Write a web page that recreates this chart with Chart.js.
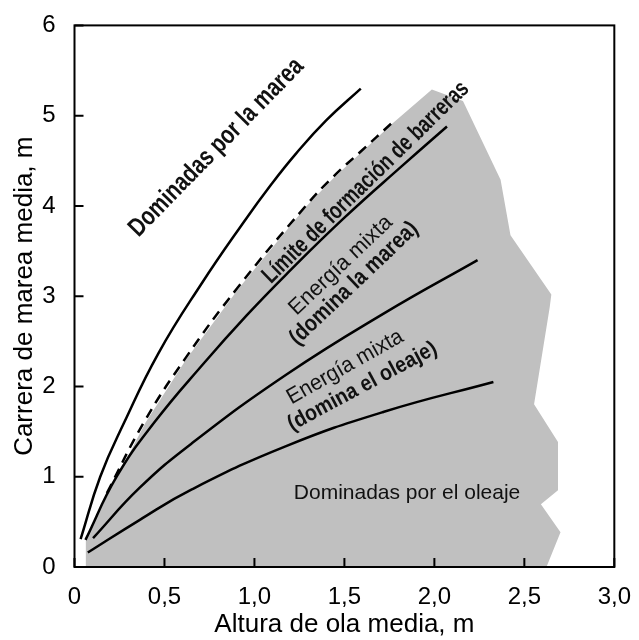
<!DOCTYPE html>
<html>
<head>
<meta charset="utf-8">
<script src="https://cdn.jsdelivr.net/npm/chart.js@4/dist/chart.umd.min.js"></script>
<style>
  html, body { margin: 0; padding: 0; background: #fff; }
</style>
</head>
<body>
<canvas id="chart" width="639" height="640"></canvas>
<script>
// axis ticks
const xTicks = [0, 0.5, 1.0, 1.5, 2.0, 2.5, 3.0];
const yTicks = [0, 1, 2, 3, 4, 5, 6];

// upper solid curve (dominadas por la marea)
const tideX = [0.034, 0.143, 0.276, 0.467, 0.703, 0.94, 1.094, 1.231, 1.40, 1.591];
const tideY = [0.31, 1.0, 1.60, 2.37, 3.13, 3.82, 4.24, 4.58, 4.95, 5.30];

// dashed curve
const dashX = [0.18, 0.385, 0.612, 0.905, 1.285, 1.431, 1.60, 1.759];
const dashY = [0.82, 1.60, 2.30, 3.09, 4.0, 4.31, 4.62, 4.91];

// solid curve under the "Límite" label
const limitX = [0.061, 0.234, 0.443, 0.72, 0.958, 1.176, 1.5, 1.83, 2.07];
const limitY = [0.30, 1.0, 1.60, 2.26, 2.79, 3.24, 3.87, 4.46, 4.88];

// mixed energy, tide dominated / wave dominated
const mixTideX = [0.103, 0.361, 0.652, 1.176, 1.72, 2.24];
const mixTideY = [0.32, 0.876, 1.37, 2.13, 2.81, 3.40];
const mixWaveX = [0.074, 0.361, 0.652, 1.176, 1.72, 2.328];
const mixWaveY = [0.16, 0.52, 0.86, 1.34, 1.72, 2.05];

// grey area outline
const shadeX = [0.06, 0.063, 0.19, 0.395, 0.62, 0.91, 1.29, 1.44, 1.77, 1.986, 2.159, 2.368, 2.423, 2.65, 2.641, 2.554, 2.687, 2.687, 2.592, 2.701, 2.623, 0.06];
const shadeY = [0, 0.30, 0.82, 1.60, 2.30, 3.08, 4.0, 4.31, 4.92, 5.29, 5.163, 4.29, 3.676, 3.02, 2.877, 1.803, 1.385, 0.85, 0.695, 0.385, 0, 0];

const FONT = '"Liberation Sans", Arial, sans-serif';

// labels written inside the plot (x, y in data units)
const notes = [
  { text: 'Dominadas por la marea', x: 0.789, y: 4.647, angle: -45.7, bold: true, size: 26, maxWidth: 238 },
  { text: 'Límite de formación de barreras', x: 1.619, y: 4.26, angle: -44.3, bold: true, size: 24, maxWidth: 278 },
  { text: 'Energía mixta', x: 1.48, y: 3.34, angle: -43.5, bold: false, size: 22, maxWidth: 134 },
  { text: '(domina la marea)', x: 1.553, y: 3.14, angle: -43.5, bold: true, size: 23, maxWidth: 168 },
  { text: 'Energía mixta', x: 1.504, y: 2.214, angle: -29.5, bold: false, size: 22, maxWidth: 130 },
  { text: '(domina el oleaje)', x: 1.60, y: 2.0, angle: -28.2, bold: true, size: 22, maxWidth: 166 },
  { text: 'Dominadas por el oleaje', x: 1.848, y: 0.818, angle: 0, bold: false, size: 21, maxWidth: 300 }
];

function pairs(xs, ys) {
  return xs.map((x, i) => ({ x: x, y: ys[i] }));
}

function curve(xs, ys, dash) {
  return {
    data: pairs(xs, ys),
    showLine: true,
    borderColor: '#000',
    borderWidth: 2.5,
    borderDash: dash || [],
    pointRadius: 0,
    tension: 0.45,
    fill: false
  };
}

function formatX(v) {
  if (v === 0) return '0';
  return v.toFixed(1).replace('.', ',');
}

const framePlugin = {
  id: 'frame',
  afterDatasetsDraw(chart) {
    const ctx = chart.ctx;
    const xs = chart.scales.x;
    const ys = chart.scales.y;
    const a = chart.chartArea;

    // inward tick marks
    ctx.save();
    ctx.strokeStyle = '#000';
    ctx.lineWidth = 2;
    ctx.beginPath();
    xTicks.forEach(v => {
      const px = xs.getPixelForValue(v);
      ctx.moveTo(px, a.bottom);
      ctx.lineTo(px, a.bottom - 9);
    });
    yTicks.forEach(v => {
      const py = ys.getPixelForValue(v);
      ctx.moveTo(a.left, py);
      ctx.lineTo(a.left + 9, py);
    });
    ctx.stroke();
    ctx.strokeRect(a.left, a.top, a.right - a.left, a.bottom - a.top);
    ctx.restore();

    // text labels
    notes.forEach(n => {
      ctx.save();
      ctx.translate(xs.getPixelForValue(n.x), ys.getPixelForValue(n.y));
      ctx.rotate(n.angle * Math.PI / 180);
      ctx.font = (n.bold ? 'bold ' : '') + n.size + 'px ' + FONT;
      ctx.fillStyle = '#111';
      ctx.textAlign = 'center';
      ctx.textBaseline = 'middle';
      ctx.fillText(n.text, 0, 0, n.maxWidth);
      ctx.restore();
    });
  }
};

const shade = {
  data: pairs(shadeX, shadeY),
  showLine: true,
  borderWidth: 0,
  borderColor: 'rgba(0,0,0,0)',
  backgroundColor: '#c0c0c0',
  pointRadius: 0,
  tension: 0,
  fill: 'shape',
  order: 10
};

new Chart(document.getElementById('chart'), {
  type: 'scatter',
  data: {
    datasets: [
      curve(tideX, tideY),
      curve(dashX, dashY, [10, 7]),
      curve(limitX, limitY),
      curve(mixTideX, mixTideY),
      curve(mixWaveX, mixWaveY),
      shade
    ]
  },
  options: {
    responsive: false,
    animation: false,
    layout: { padding: { top: 17, right: 15, left: 0, bottom: 0 } },
    plugins: {
      legend: { display: false },
      tooltip: { enabled: false }
    },
    scales: {
      x: {
        type: 'linear',
        min: 0,
        max: 3,
        afterFit: s => { s.height = 73; },
        afterBuildTicks: s => { s.ticks = xTicks.map(v => ({ value: v })); },
        grid: { display: false },
        border: { display: false },
        ticks: {
          color: '#000',
          font: { family: FONT, size: 24 },
          padding: 8,
          autoSkip: false,
          maxRotation: 0,
          callback: v => formatX(v)
        },
        title: {
          display: true,
          text: 'Altura de ola media, m',
          color: '#000',
          font: { family: FONT, size: 26 },
          padding: { top: 0, bottom: 0 }
        }
      },
      y: {
        type: 'linear',
        min: 0,
        max: 6,
        afterFit: s => { s.width = 74.5; },
        afterBuildTicks: s => { s.ticks = yTicks.map(v => ({ value: v })); },
        grid: { display: false },
        border: { display: false },
        ticks: {
          color: '#000',
          font: { family: FONT, size: 24 },
          padding: 11,
          autoSkip: false,
          callback: v => String(v)
        },
        title: {
          display: true,
          text: 'Carrera de marea media, m',
          color: '#000',
          font: { family: FONT, size: 26 },
          padding: { top: 9, bottom: 0 }
        }
      }
    }
  },
  plugins: [framePlugin]
});
</script>
</body>
</html>
